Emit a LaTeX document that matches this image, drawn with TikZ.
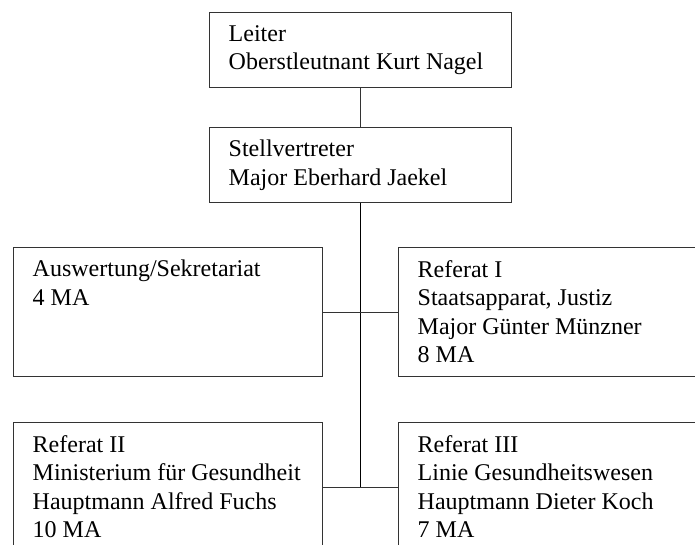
\documentclass[tikz,border=0pt]{standalone}
\usepackage{fontspec}
\setmainfont{Liberation Serif}
\usepackage{tikz}
\tikzset{
  font={\fontsize{24pt}{28.5pt}\selectfont}}

\begin{document}
\begin{tikzpicture}[x=1pt,y=-1pt]
\tikzstyle{every node}+=[inner sep=0pt]
\tikzstyle{unitbox}=[draw=black!80, line width=0.9pt, anchor=north west]
\tikzstyle{unittext}=[anchor=north west, align=left, execute at begin node=\strut]
\useasboundingbox (0,0) rectangle (695,544);
\clip (0,0) rectangle (695,544);
% boxes
\node [unitbox, minimum width=302.5pt, minimum height=75pt] (leiter) at (208.5,12) {};
\node [unitbox, minimum width=302.5pt, minimum height=75pt] (stellv) at (208.5,127) {};
\node [unitbox, minimum width=309.5pt, minimum height=129pt] (ausw) at (12.5,247) {};
\node [unitbox, minimum width=340pt, minimum height=129pt] (refI) at (397.5,247) {};
\node [unitbox, minimum width=309.5pt, minimum height=129pt] (refII) at (12.5,422) {};
\node [unitbox, minimum width=340pt, minimum height=129pt] (refIII) at (397.5,422) {};
% texts
\node [unittext] (leitertext) at ([shift={(20,13)}]leiter.north west)
  {Leiter\\Oberstleutnant Kurt Nagel};
\node [unittext] (stellvtext) at ([shift={(20,13)}]stellv.north west)
  {Stellvertreter\\Major Eberhard Jaekel};
\node [unittext] (auswtext) at ([shift={(20,13)}]ausw.north west)
  {Auswertung/Sekretariat\\4 MA};
\node [unittext] (refItext) at ([shift={(20,13)}]refI.north west)
  {Referat I\\Staatsapparat, Justiz\\Major Günter Münzner\\8 MA};
\node [unittext] (refIItext) at ([shift={(20,13)}]refII.north west)
  {Referat II\\Ministerium für Gesundheit\\Hauptmann Alfred Fuchs\\10 MA};
\node [unittext] (refIIItext) at ([shift={(20,13)}]refIII.north west)
  {Referat III\\Linie Gesundheitswesen\\Hauptmann Dieter Koch\\7 MA};
% lines
\coordinate (trunkend) at (stellv.south |- refII.east);
\draw [black!80, line width=0.9pt] (leiter.south) -- (stellv.north);
\draw [black, line width=1.2pt] (stellv.south) -- (trunkend);
\draw [black!80, line width=0.9pt] (ausw.east) -- (refI.west);
\draw [black!80, line width=0.9pt] (refII.east) -- (refIII.west);
\end{tikzpicture}
\end{document}
